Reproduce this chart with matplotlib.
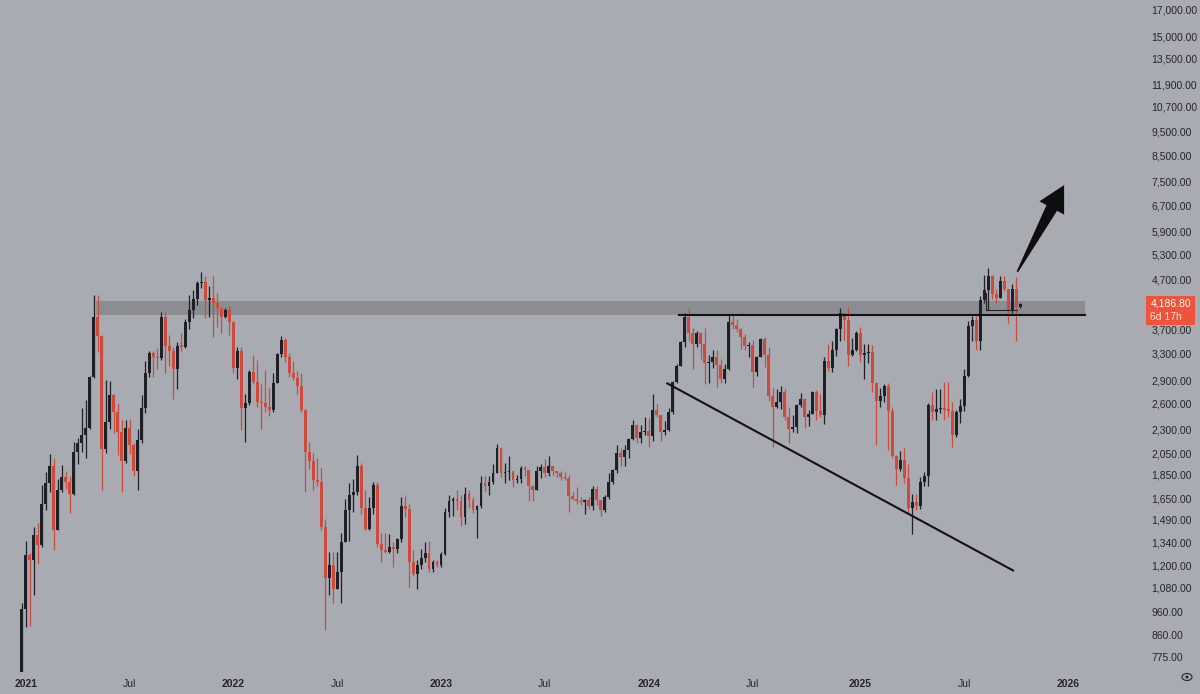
import matplotlib
matplotlib.use("Agg")
import matplotlib.pyplot as plt
import matplotlib.dates as mdates
import matplotlib.transforms as mtransforms
import numpy as np
import pandas as pd
from matplotlib.patches import Polygon, Rectangle, Ellipse
from matplotlib.ticker import NullLocator

# weekly candles, first week starts 2020-12-28
first_open = 712
closes = [
    975, 1262, 1230, 1385, 1320, 1610, 1780, 1930, 1420, 1720, 1830, 1790, 1690, 2060, 2150, 2240,
    2310, 2950, 3920, 3580, 2090, 2380, 2700, 2500, 2270, 1970, 2310, 2130, 1880, 2180, 2540, 3010,
    3300, 3250, 3230, 3930, 3420, 3330, 3060, 3420, 3410, 3840, 4060, 4280, 4620, 4650, 4250, 4290,
    4200, 4100, 3930, 4050, 3830,
    3080, 3330, 2540, 2600, 3020, 2880, 2620, 2600, 2550, 2520, 2860, 3290, 3520, 3250, 3000, 2930,
    2830, 2520, 2060, 1970, 1800, 1790, 1440, 1130, 1200, 1070, 1160, 1340, 1560, 1680, 1700, 1930,
    1580, 1430, 1580, 1760, 1330, 1290, 1280, 1310, 1300, 1360, 1590, 1570, 1220, 1150, 1200, 1240,
    1270, 1180, 1220, 1200,
    1265, 1550, 1630, 1650, 1630, 1510, 1690, 1640, 1560, 1590, 1780, 1750, 1790, 1860, 2100, 1860,
    1870, 1880, 1800, 1810, 1910, 1890, 1750, 1720, 1880, 1920, 1860, 1930, 1880, 1860, 1830, 1820,
    1670, 1650, 1630, 1620, 1640, 1590, 1730, 1640, 1560, 1660, 1790, 1890, 2050, 2010, 2080, 2190,
    2350, 2200, 2270, 2280,
    2220, 2520, 2460, 2270, 2290, 2500, 2880, 3110, 3480, 3920, 3640, 3450, 3640, 3450, 3150, 3160,
    3250, 3120, 2920, 3070, 3830, 3780, 3700, 3570, 3420, 3440, 3020, 3250, 3530, 3270, 2690, 2560,
    2620, 2750, 2430, 2300, 2320, 2580, 2660, 2440, 2470, 2750, 2510, 2460, 3180, 3080, 3360, 3700,
    4000, 3870, 3280, 3360, 3640,
    3270, 3300, 3320, 2870, 2630, 2690, 2820, 2510, 2020, 1900, 1980, 1820, 1580, 1620, 1590, 1790,
    1840, 2580, 2500, 2530, 2540, 2520, 2510, 2230, 2500, 2570, 2960, 3760, 3870, 3500, 4260, 4470,
    4780, 4390, 4300, 4660, 4480, 4040, 4490, 4120, 4186.8,
]
highs = [
    1000, 1350, 1270, 1440, 1470, 1760, 1875, 2040, 2000, 1810, 1940, 1880, 1840, 2160, 2200, 2540,
    2640, 2960, 4360, 4370, 3600, 2900, 2890, 2720, 2600, 2400, 2400, 2410, 2150, 2300, 2700, 3180,
    3330, 3330, 3380, 4030, 4030, 3600, 3400, 3480, 3640, 3880, 4370, 4460, 4660, 4870, 4780, 4550,
    4780, 4400, 4100, 4100, 4130,
    3850, 3410, 3410, 2720, 3050, 3280, 3200, 2850, 3050, 2800, 3000, 3300, 3580, 3550, 3300, 3180,
    3030, 3000, 2530, 2160, 2050, 2000, 1910, 1500, 1280, 1280, 1280, 1400, 1650, 1780, 1810, 2030,
    1960, 1720, 1660, 1790, 1790, 1400, 1400, 1390, 1340, 1370, 1660, 1680, 1610, 1290, 1230, 1300,
    1340, 1350, 1230, 1230,
    1280, 1580, 1680, 1660, 1720, 1680, 1740, 1720, 1660, 1600, 1840, 1840, 1840, 1950, 2140, 2110,
    1960, 2020, 1880, 1850, 1930, 1930, 1890, 1760, 1930, 1950, 1990, 2020, 1930, 1880, 1880, 1870,
    1850, 1700, 1740, 1660, 1650, 1660, 1750, 1750, 1640, 1680, 1860, 1900, 2130, 2100, 2130, 2200,
    2400, 2350, 2340, 2440,
    2420, 2720, 2590, 2460, 2390, 2540, 2890, 3130, 3500, 4000, 4090, 3720, 3680, 3650, 3730, 3280,
    3350, 3350, 3220, 3130, 3980, 3980, 3890, 3720, 3620, 3480, 3520, 3260, 3550, 3560, 3400, 2800,
    2790, 2820, 2780, 2560, 2460, 2590, 2730, 2670, 2520, 2760, 2770, 2720, 3250, 3450, 3500, 3730,
    4100, 4010, 4110, 3550, 3680,
    3750, 3450, 3450, 3440, 2880, 2800, 2850, 2860, 2550, 2030, 2070, 2100, 1950, 1690, 1690, 1830,
    1870, 2600, 2740, 2790, 2790, 2880, 2880, 2620, 2520, 2650, 3060, 3860, 3940, 3940, 4330, 4790,
    4960, 4800, 4490, 4770, 4770, 4490, 4590, 4760, 4190,
]
lows = [
    705, 895, 900, 1040, 1210, 1310, 1560, 1700, 1290, 1420, 1700, 1730, 1540, 1680, 1950, 2060,
    2000, 2300, 2930, 3320, 1720, 2050, 2300, 2260, 2030, 1700, 1960, 2040, 1840, 1720, 2150, 2480,
    2950, 2950, 3060, 3200, 3010, 3100, 2650, 2780, 3340, 3380, 3700, 3900, 4150, 4500, 3900, 3920,
    3570, 3750, 3630, 3900, 3600,
    3000, 2920, 2290, 2160, 2580, 2850, 2560, 2300, 2500, 2450, 2500, 2860, 3250, 3170, 2950, 2900,
    2720, 2500, 1700, 1900, 1720, 1750, 1420, 880, 1040, 1000, 1070, 1000, 1340, 1350, 1550, 1680,
    1530, 1420, 1420, 1530, 1310, 1220, 1270, 1270, 1190, 1270, 1340, 1510, 1080, 1140, 1070, 1180,
    1220, 1160, 1160, 1190,
    1190, 1260, 1510, 1520, 1560, 1450, 1460, 1580, 1540, 1370, 1580, 1710, 1680, 1770, 1860, 1830,
    1780, 1800, 1740, 1780, 1780, 1840, 1630, 1630, 1720, 1820, 1830, 1840, 1850, 1830, 1800, 1800,
    1550, 1640, 1610, 1600, 1530, 1570, 1560, 1600, 1520, 1550, 1650, 1770, 1860, 1930, 1930, 2000,
    2180, 2150, 2150, 2240,
    2110, 2170, 2430, 2170, 2230, 2280, 2470, 2870, 3100, 3400, 3500, 3060, 3400, 3210, 2850, 2860,
    3080, 2810, 2860, 2860, 3050, 3700, 3650, 3370, 3360, 3250, 2810, 2960, 3250, 3090, 2630, 2110,
    2540, 2530, 2400, 2150, 2270, 2260, 2560, 2310, 2330, 2470, 2400, 2430, 2360, 3030, 3020, 3260,
    3500, 3520, 3100, 3260, 3330,
    3160, 2920, 3150, 2750, 2130, 2550, 2620, 2080, 2000, 1760, 1880, 1780, 1540, 1390, 1560, 1570,
    1750, 1750, 2400, 2400, 2480, 2400, 2440, 2110, 2210, 2370, 2510, 2950, 3500, 3350, 3360, 4200,
    4060, 4270, 4200, 4290, 4440, 3820, 4000, 3500, 4100,
]

price_ticks = [775, 860, 960, 1080, 1200, 1340, 1490, 1650, 1850, 2050, 2300, 2600, 2900,
               3300, 3700, 4700, 5300, 5900, 6700, 7500, 8500, 9500, 10700, 11900, 13500,
               15000, 17000]
time_ticks = ["2021-01-04", "2021-07-05", "2022-01-03", "2022-07-04", "2023-01-02",
              "2023-07-03", "2024-01-01", "2024-07-01", "2025-01-06", "2025-07-07",
              "2026-01-05"]
time_labels = ["2021", "Jul", "2022", "Jul", "2023", "Jul", "2024", "Jul", "2025", "Jul", "2026"]

# drawings
zone = (3965, 4240)
zone_span = ("2021-05-08", "2026-02-03")
level = 3965
level_span = ("2024-02-23", "2026-02-03")
trend = [("2024-02-01", 2866), ("2025-10-02", 1168)]
range_mark = [("2025-08-14", 4400), ("2025-08-14", 4060), ("2025-10-08", 4060)]
arrow_tail = ("2025-10-08", 4870)
arrow_tip = ("2025-12-29", 7370)
countdown = "6d 17h"

BG = "#a9abb2"
ZONE = "#8b8d93"
UP = "#1d2026"
DOWN = "#cf4a3b"
TEXT = "#23252b"
LABEL = "#f0533c"

fig = plt.figure(figsize=(12, 6.94), dpi=100, facecolor=BG)
ax = fig.add_axes([0, 22 / 694, 1146 / 1200, 672 / 694], facecolor=BG)
ax.set_yscale("log")

x = mdates.date2num(pd.date_range("2020-12-28", periods=len(closes), freq="7D"))
c = np.array(closes, dtype=float)
o = np.array([first_open] + closes[:-1], dtype=float)
h = np.array(highs, dtype=float)
l = np.array(lows, dtype=float)
col = np.where(c >= o, UP, DOWN)

ax.vlines(x, l, h, colors=col, linewidth=0.9, zorder=3)
lo = np.minimum(o, c)
hi = np.maximum(o, c)
ax.bar(x, np.maximum(hi - lo, lo * 0.006), bottom=lo, width=5.0, color=col,
       linewidth=0, zorder=4)

d = mdates.date2num
ts = pd.Timestamp
ax.fill_between([d(ts(zone_span[0])), d(ts(zone_span[1]))], zone[0], zone[1],
                color=ZONE, linewidth=0, zorder=1)
ax.plot([d(ts(level_span[0])), d(ts(level_span[1]))], [level, level],
        color="#111214", linewidth=1.5, zorder=5)
ax.plot([d(ts(t)) for t, _ in trend], [p for _, p in trend],
        color="#111214", linewidth=1.5, zorder=5, solid_capstyle="butt")
ax.plot([d(ts(t)) for t, _ in range_mark], [p for _, p in range_mark],
        color="#222428", linewidth=0.8, zorder=5)

x0 = d(ts("2020-12-28"))
ax.set_xlim(x0 - 38.0, x0 + 1970.5)
ax.set_ylim(721, 17831)

for s in ax.spines.values():
    s.set_visible(False)

ax.yaxis.tick_right()
ax.set_yticks(price_ticks)
ax.set_yticklabels([f"{p:,.2f}" for p in price_ticks])
ax.yaxis.set_minor_locator(NullLocator())
ax.tick_params(axis="y", length=0, pad=4, labelsize=7.5, labelcolor=TEXT)
for t in ax.get_yticklabels():
    t.set_fontfamily("Liberation Sans")

ax.set_xticks([d(ts(t)) for t in time_ticks])
ax.set_xticklabels(time_labels)
ax.xaxis.set_minor_locator(NullLocator())
ax.tick_params(axis="x", length=0, pad=5, labelsize=7.5, labelcolor=TEXT)
for t in ax.get_xticklabels():
    t.set_fontfamily("Liberation Sans")
    if t.get_text() != "Jul":
        t.set_fontweight("bold")

# last price label on the scale
last = closes[-1]
ytr = ax.get_yaxis_transform()
ax.add_patch(Rectangle((1.0, last * 0.9026), 49 / 1146, last * (1.0366 - 0.9026),
                       transform=ytr, facecolor=LABEL, edgecolor="none",
                       clip_on=False, zorder=6))
off = mtransforms.ScaledTranslation(0.045, 0, fig.dpi_scale_trans)
ax.text(1.0, last, f"{last:,.2f}", transform=ytr + off, va="center", ha="left",
        fontsize=7.5, color="white", family="Liberation Sans", clip_on=False, zorder=7)
off2 = mtransforms.ScaledTranslation(0.045, -0.135, fig.dpi_scale_trans)
ax.text(1.0, last, countdown, transform=ytr + off2, va="center", ha="left",
        fontsize=7.5, color="#ffe6e0", family="Liberation Sans", clip_on=False, zorder=7)

# tapered arrow drawn in pixel space
tail = ax.transData.transform((d(ts(arrow_tail[0])), arrow_tail[1]))
tip = ax.transData.transform((d(ts(arrow_tip[0])), arrow_tip[1]))
vec = tip - tail
u = vec / np.hypot(*vec)
nrm = np.array([-u[1], u[0]])
base = tip - u * 26
pts = [tail + nrm * 0.8, base + nrm * 6, base + nrm * 14, tip,
       base - nrm * 14, base - nrm * 6, tail - nrm * 0.8]
fig.add_artist(Polygon(pts, closed=True, facecolor="#0d0e10", edgecolor="none",
                       transform=mtransforms.IdentityTransform(), zorder=8))

# small eye icon bottom right
fig.add_artist(Ellipse((1187 / 1200, 1 - 677 / 694), 10 / 1200, 7 / 694,
                       transform=fig.transFigure, facecolor="none",
                       edgecolor=TEXT, linewidth=0.8))
fig.add_artist(Ellipse((1187 / 1200, 1 - 677 / 694), 3 / 1200, 3 / 694,
                       transform=fig.transFigure, facecolor=TEXT, edgecolor="none"))

fig.savefig("out.png", dpi=100, facecolor=BG)
